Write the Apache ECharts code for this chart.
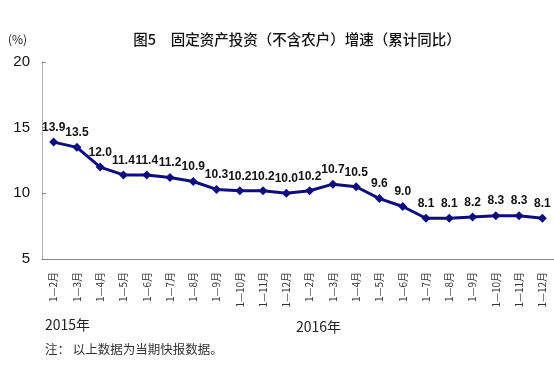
<!DOCTYPE html>
<html><head><meta charset="utf-8">
<script src="https://cdn.jsdelivr.net/npm/echarts@6/dist/echarts.min.js"></script>
<style>html,body{margin:0;padding:0;background:#fff}#c{width:554px;height:370px}</style>
</head><body><div id="c"></div>
<script>
var categories = ['1—2月','1—3月','1—4月','1—5月','1—6月','1—7月','1—8月','1—9月','1—10月','1—11月','1—12月',
                  '1—2月','1—3月','1—4月','1—5月','1—6月','1—7月','1—8月','1—9月','1—10月','1—11月','1—12月'];
var growth = [13.9,13.5,12.0,11.4,11.4,11.2,10.9,10.3,10.2,10.2,10.0,10.2,10.7,10.5,9.6,9.0,8.1,8.1,8.2,8.3,8.3,8.1];
var yTicks = [5,10,15,20];
var titleText = '图5　固定资产投资（不含农户）增速（累计同比）';
var unitText = '(%)';
var year1 = '2015年', year2 = '2016年';
var noteText = '注： 以上数据为当期快报数据。';

var chart = echarts.init(document.getElementById('c'));
var cjk = '"Noto Sans CJK SC", sans-serif';
chart.setOption({
  animation: false,
  backgroundColor: '#fff',
  grid: {left: 42, right: 0, top: 62, bottom: 111},
  xAxis: {type: 'category', data: categories, boundaryGap: true,
    axisLine: {lineStyle: {color: '#888', width: 1}},
    axisTick: {inside: true, length: 3, lineStyle: {color: '#666'}},
    axisLabel: {rotate: 90, interval: 0, margin: 13, fontFamily: cjk, fontSize: 10, color: '#333'}},
  yAxis: {type: 'value', min: yTicks[0], max: yTicks[yTicks.length-1], interval: 5,
    splitLine: {show: false},
    axisLine: {show: true, lineStyle: {color: '#999', type: 'dotted', width: 1}},
    axisTick: {show: true, inside: true, length: 4, lineStyle: {color: '#888'}},
    axisLabel: {margin: 12, fontFamily: 'Liberation Sans, Arial', fontSize: 15, color: '#111'}},
  series: [{type: 'line', data: growth, symbol: 'diamond', symbolSize: 9,
    lineStyle: {color: '#0d0d80', width: 3},
    itemStyle: {color: '#0d0d80'},
    label: {show: true, position: 'top', distance: 4, formatter: function(p){return p.value.toFixed(1);},
      fontFamily: 'Liberation Sans, Arial', fontWeight: 'bold', fontSize: 12, color: '#111'}}],
  graphic: [
    {type: 'text', x: 297, y: 39, style: {text: titleText, font: '500 14.5px ' + cjk, fill: '#111', align: 'center', verticalAlign: 'middle'}},
    {type: 'text', x: 8, y: 39, style: {text: unitText, font: '12px ' + cjk, fill: '#222', verticalAlign: 'middle'}},
    {type: 'text', x: 45, y: 325, style: {text: year1, font: '14px ' + cjk, fill: '#222', verticalAlign: 'middle'}},
    {type: 'text', x: 296, y: 327, style: {text: year2, font: '14px ' + cjk, fill: '#222', verticalAlign: 'middle'}},
    {type: 'text', x: 45, y: 349, style: {text: noteText, font: '12.5px ' + cjk, fill: '#333', verticalAlign: 'middle'}}
  ]
});
</script></body></html>
